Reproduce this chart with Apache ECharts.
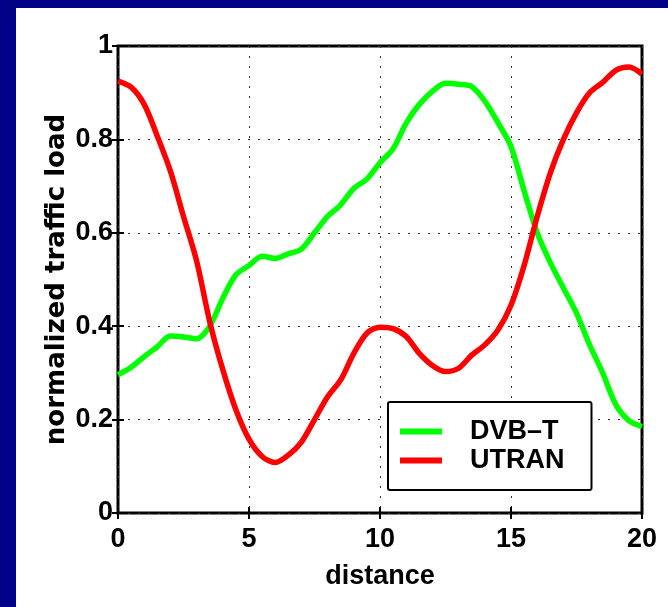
<!DOCTYPE html>
<html>
<head>
<meta charset="utf-8">
<script src="https://cdn.jsdelivr.net/npm/echarts@6/dist/echarts.min.js"></script>
<style>
  html, body { margin: 0; padding: 0; width: 668px; height: 607px; background: #020288; overflow: hidden; }
  #chart { position: absolute; left: 16px; top: 8px; width: 652px; height: 599px; background: #fff; }
</style>
</head>
<body>
<div id="chart"></div>
<script>
// sampled along distance, step 0.5
const distance = [0, 0.5, 1, 1.5, 2, 2.5, 3, 3.5, 4, 4.5, 5, 5.5, 6, 6.5, 7, 7.5, 8, 8.5, 9, 9.5, 10,
  10.5, 11, 11.5, 12, 12.5, 13, 13.5, 14, 14.5, 15, 15.5, 16, 16.5, 17, 17.5, 18, 18.5, 19, 19.5, 20]
const dvbt = [0.296, 0.312, 0.335, 0.356, 0.379, 0.377, 0.373, 0.40, 0.46, 0.51, 0.53, 0.55, 0.545, 0.555, 0.565, 0.60,
  0.635, 0.66, 0.695, 0.715, 0.75, 0.78, 0.835, 0.875, 0.903, 0.92, 0.918, 0.913, 0.882, 0.836, 0.785,
  0.69, 0.60, 0.536, 0.482, 0.428, 0.36, 0.30, 0.232, 0.198, 0.185]
const utran = [0.925, 0.912, 0.875, 0.807, 0.732, 0.635, 0.54, 0.41, 0.307, 0.221, 0.158, 0.121, 0.108, 0.124, 0.152, 0.20,
  0.249, 0.285, 0.342, 0.385, 0.398, 0.395, 0.378, 0.342, 0.316, 0.303, 0.31, 0.338, 0.36, 0.392, 0.445,
  0.53, 0.635, 0.728, 0.80, 0.857, 0.90, 0.922, 0.948, 0.955, 0.94]
const xTicks = [0, 5, 10, 15, 20]
const yTicks = [0, 0.2, 0.4, 0.6, 0.8, 1]

const chart = echarts.init(document.getElementById('chart'))

const font = 'Liberation Sans, Arial, sans-serif'
const dots = { color: '#333', width: 1, type: [2, 8] }
const tick = { show: true, inside: true, length: 6, lineStyle: { color: '#000', width: 2 } }

const option = {
  animation: false,
  grid: { left: 102, top: 38, right: 26, bottom: 94, show: true, borderColor: '#000', borderWidth: 3 },
  legend: {
    orient: 'vertical',
    left: 372,
    top: 394,
    icon: 'rect',
    itemWidth: 42,
    itemHeight: 6,
    itemGap: 2,
    padding: [16, 27, 16, 12],
    borderColor: '#000',
    borderWidth: 2,
    borderRadius: 2,
    backgroundColor: '#fff',
    textStyle: { fontFamily: font, fontWeight: 'bold', fontSize: 27, color: '#000', lineHeight: 27, padding: [0, 0, 0, 23] },
    data: ['DVB–T', 'UTRAN']
  },
  xAxis: [
    {
      type: 'value', min: 0, max: 20, interval: 5,
      name: 'distance', nameLocation: 'middle', nameGap: 50,
      nameTextStyle: { fontFamily: font, fontWeight: 'bold', fontSize: 27, color: '#000' },
      axisLine: { show: false },
      axisTick: tick,
      axisLabel: { fontFamily: font, fontWeight: 'bold', fontSize: 27, color: '#000', margin: 13,
        formatter: v => xTicks.includes(v) ? String(v) : '' },
      splitLine: { show: true, lineStyle: dots }
    },
    {
      type: 'value', min: 0, max: 20, interval: 5, position: 'top',
      axisLine: { show: false }, axisTick: tick, axisLabel: { show: false }, splitLine: { show: false }
    }
  ],
  yAxis: [
    {
      type: 'value', min: 0, max: 1, interval: 0.2,
      name: 'normalized traffic load', nameLocation: 'middle', nameGap: 48, nameMoveOverlap: false,
      nameTextStyle: { fontFamily: 'DejaVu Sans, sans-serif', fontWeight: 'bold', fontSize: 26, color: '#000' },
      axisLine: { show: false },
      axisTick: tick,
      axisLabel: { fontFamily: font, fontWeight: 'bold', fontSize: 27, color: '#000', margin: 5,
        formatter: v => {
          const t = yTicks.find(y => Math.abs(y - v) < 1e-9)
          return t === undefined ? '' : String(t)
        } },
      splitLine: { show: true, lineStyle: dots }
    },
    {
      type: 'value', min: 0, max: 1, interval: 0.2, position: 'right',
      axisLine: { show: false }, axisTick: tick, axisLabel: { show: false }, splitLine: { show: false }
    }
  ],
  series: [
    {
      name: 'DVB–T', type: 'line', smooth: 0.3, showSymbol: false,
      data: distance.map((d, i) => [d, dvbt[i]]),
      lineStyle: { color: '#00ff00', width: 5.5 }, itemStyle: { color: '#00ff00' }
    },
    {
      name: 'UTRAN', type: 'line', smooth: 0.3, showSymbol: false,
      data: distance.map((d, i) => [d, utran[i]]),
      lineStyle: { color: '#ff0000', width: 5.5 }, itemStyle: { color: '#ff0000' }
    }
  ]
}

chart.setOption(option)
</script>
</body>
</html>
